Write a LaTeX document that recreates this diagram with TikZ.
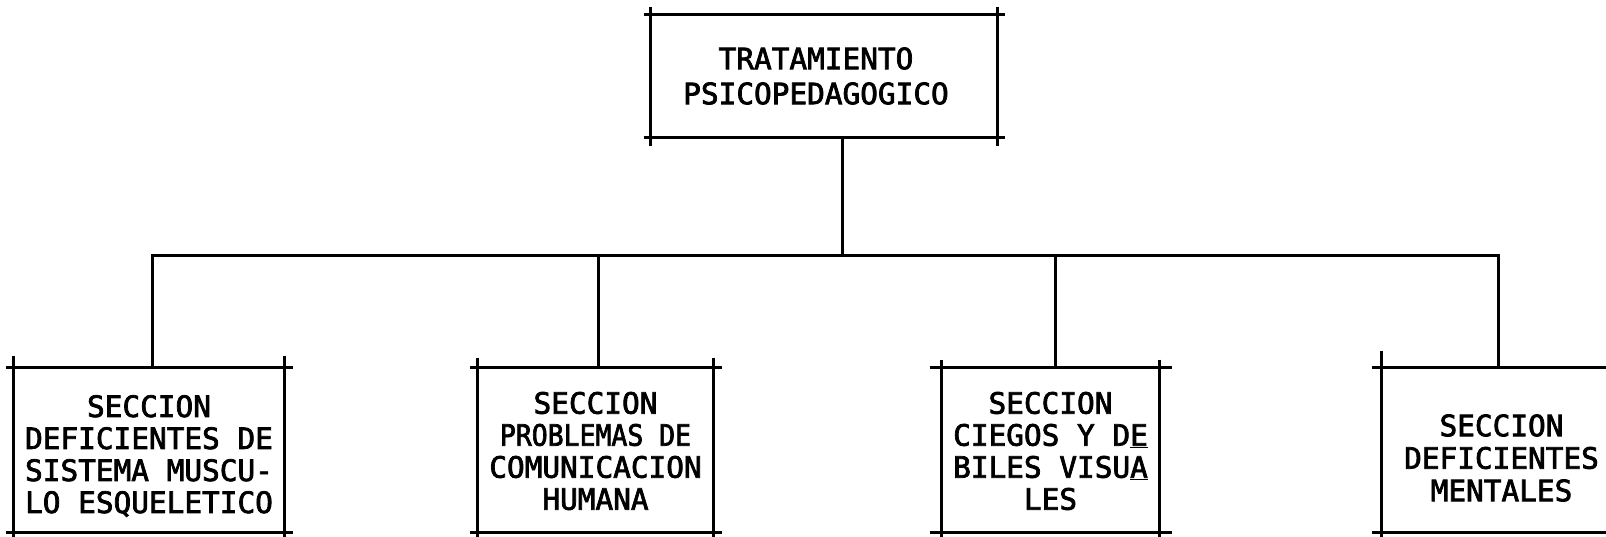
\documentclass[tikz,border=0pt]{standalone}
\usepackage{fontspec}
\newfontfamily\tw[FakeBold=2.5]{DejaVu Sans Mono}
\newcommand\drawframe[4]{%
  \draw[frame, shorten <=-#2, shorten >=-#2] (#1.north west) -- (#1.north east);
  \draw[frame, shorten <=-#2, shorten >=-#2] (#1.south west) -- (#1.south east);
  \draw[frame, shorten <=-#3, shorten >=-#4] (#1.north west) -- (#1.south west);
  \draw[frame, shorten <=-#3, shorten >=-#4] (#1.north east) -- (#1.south east);
}
\begin{document}
\begin{tikzpicture}[x=1pt,y=-1pt,line width=3pt,
  frame/.style={line width=3pt},
  wire/.style={line width=3pt},
  boxnode/.style={draw=none, inner sep=0pt, rectangle},
  label/.style={font={\tw\fontsize{29.4pt}{32pt}\selectfont}, align=center, inner sep=0pt},
  toplabel/.style={font={\tw\fontsize{29.4pt}{35pt}\selectfont}, align=center, inner sep=0pt}]
\useasboundingbox (0,0) rectangle (1606,537);
\clip (0,0) rectangle (1606,537);
\fill[white] (0,0) rectangle (1606,537);

% boxes
\node[boxnode, minimum width=344pt, minimum height=120pt] (top) at (824,76) {};
\node[boxnode, minimum width=268pt, minimum height=162pt] (b1) at (149,450) {};
\node[boxnode, minimum width=233pt, minimum height=162pt] (b2) at (595.5,450) {};
\node[boxnode, minimum width=215pt, minimum height=162pt] (b3) at (1050.5,450) {};
\node[boxnode, minimum width=237pt, minimum height=162pt] (b4) at (1501.5,450) {};

\drawframe{top}{7pt}{7pt}{9pt}
\drawframe{b1}{8pt}{12pt}{20pt}
\drawframe{b2}{8pt}{10pt}{20pt}
\drawframe{b3}{12pt}{8pt}{20pt}
\drawframe{b4}{10pt}{17pt}{20pt}

% texts
\node[toplabel, xshift=-8pt] (ttop) at (top.center) {TRATAMIENTO\\PSICOPEDAGOGICO};
\node[label, yshift=-6pt] (t1) at (b1.center) {SECCION\\DEFICIENTES DE\\SISTEMA MUSCU-\\LO ESQUELETICO};
\node[label, yshift=-1pt] (t2) at (b2.center) {SECCION\\\scalebox{0.9}[1]{PROBLEMAS DE}\\COMUNICACION\\HUMANA};
\node[label, yshift=-1pt] (t3) at (b3.center) {SECCION\\CIEGOS Y D\underline{E}\\BILES VISU\underline{A}\\LES};
\node[label, font={\tw\fontsize{29.4pt}{32.5pt}\selectfont}, yshift=-8pt] (t4) at (b4.center) {SECCION\\DEFICIENTES\\MENTALES};

% connectors
\coordinate (bus) at (842,256);
\draw[wire] (top.south -| bus) -- (bus);
\draw[wire] ([xshift=3pt]b1.north) |- (bus);
\draw[wire] ([xshift=2.5pt]b2.north) |- (bus);
\draw[wire] ([xshift=4.5pt]b3.north) |- (bus);
\draw[wire] ([xshift=-3.5pt]b4.north) |- (bus);
\end{tikzpicture}
\end{document}
